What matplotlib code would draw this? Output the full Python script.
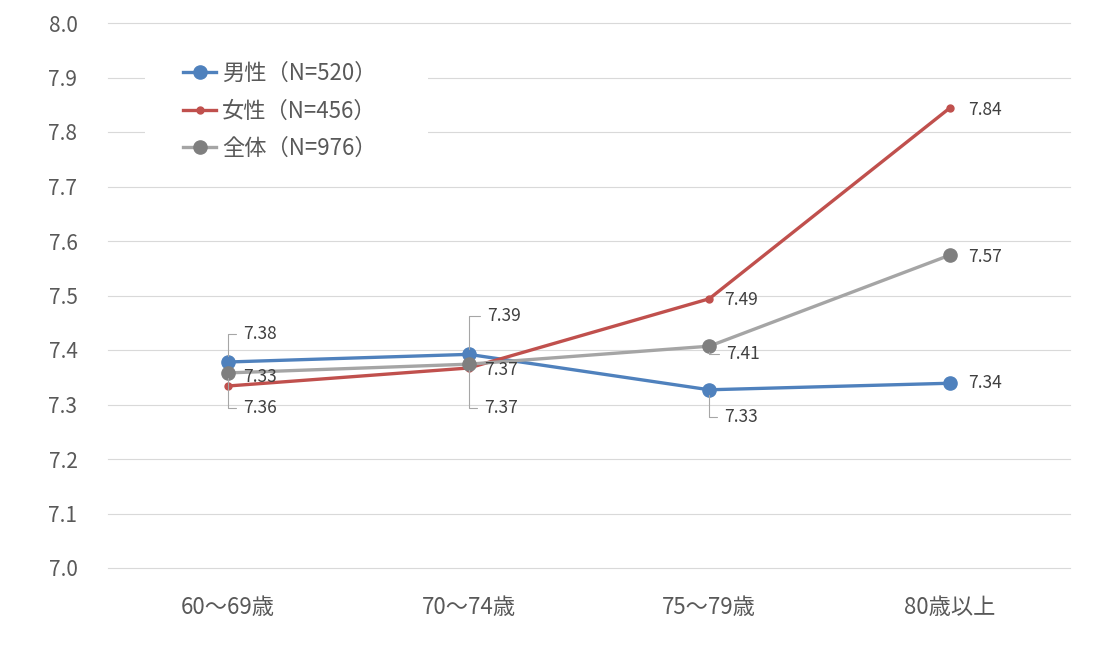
import matplotlib
matplotlib.use("Agg")
import matplotlib.pyplot as plt
from matplotlib.patches import Rectangle

plt.rcParams['font.family'] = ['Noto Sans CJK JP', 'DejaVu Sans']

categories = ["60～69歳", "70～74歳", "75～79歳", "80歳以上"]
male = [7.378, 7.392, 7.327, 7.339]
female = [7.334, 7.367, 7.494, 7.844]
total = [7.358, 7.374, 7.407, 7.574]
male_labels = ["7.38", "7.39", "7.33", "7.34"]
female_labels = ["7.33", "7.37", "7.49", "7.84"]
total_labels = ["7.36", "7.37", "7.41", "7.57"]
series_names = ["男性（N=520）", "女性（N=456）", "全体（N=976）"]
yticks = [7.0, 7.1, 7.2, 7.3, 7.4, 7.5, 7.6, 7.7, 7.8, 7.9, 8.0]

fig = plt.figure(figsize=(11.11, 6.72), dpi=100)
ax = fig.add_axes([108/1111, (672-568)/672, (1070-108)/1111, (568-23)/672])

x = list(range(len(categories)))
blue, red, gray_line, gray_mk = "#4F81BD", "#C0504D", "#A5A5A5", "#7F7F7F"
l1, = ax.plot(x, male, color=blue, lw=2.4, marker='o', ms=9.5, zorder=4, label=series_names[0])
l2, = ax.plot(x, female, color=red, lw=2.4, marker='o', ms=5, zorder=4, label=series_names[1])
l3, = ax.plot(x, total, color=gray_line, lw=2.4, marker='o', ms=9.5, mfc=gray_mk, mec=gray_mk,
              zorder=4, label=series_names[2])

ax.set_xlim(-0.5, 3.5)
ax.set_ylim(7.0, 8.0)
ax.set_yticks(yticks)
ax.set_yticklabels([f"{v:.1f}" for v in yticks])
ax.set_xticks(x)
ax.set_xticklabels(categories)
for s in ax.spines.values():
    s.set_visible(False)
ax.grid(axis='y', color='#D9D9D9', lw=0.8)
for gl in ax.get_ygridlines():
    gl.set_clip_on(False)
ax.set_axisbelow(True)
ax.tick_params(axis='y', length=0, pad=22, labelsize=15, labelcolor='#595959')
ax.tick_params(axis='x', length=0, pad=20, labelsize=16, labelcolor='#595959')

# data labels: offsets in pixels, leader flags
offsets = {
    'male': [(15, 28), (18, 38), (15, -27), (18, 0)],
    'female': [(15, 9), (15, -2), (15, -1), (18, -2)],
    'total': [(15, -35), (15, -44), (17, -8), (18, -2)],
}
leaders = {
    'male': [True, True, True, False],
    'female': [False, False, False, False],
    'total': [True, True, True, False],
}
data = {'male': (male, male_labels), 'female': (female, female_labels), 'total': (total, total_labels)}
for key, (vals, labs) in data.items():
    for i, (v, lab) in enumerate(zip(vals, labs)):
        off = offsets[key][i]
        kw = {}
        if leaders[key][i]:
            kw['arrowprops'] = dict(arrowstyle='-', color='#A6A6A6', lw=0.8,
                                    connectionstyle='angle,angleA=0,angleB=90,rad=0',
                                    relpos=(0, 0.5), shrinkA=3, shrinkB=4)
        ax.annotate(lab, xy=(i, v), xytext=off, textcoords='offset pixels',
                    ha='left', va='center', fontsize=12.5, color='#404040', zorder=6, **kw)

# legend background
ax.add_patch(Rectangle((145/1111, 1-168/672), (428-145)/1111, (168-52)/672,
                       transform=fig.transFigure, facecolor='white', edgecolor='none', zorder=2))
leg = fig.legend(handles=[l1, l2, l3], loc='upper left', bbox_to_anchor=(183/1111, 1-62/672),
                 frameon=False, fontsize=16, handlelength=1.5, handletextpad=0.25,
                 labelspacing=0.65, borderpad=0, borderaxespad=0)
for t in leg.get_texts():
    t.set_color('#595959')

fig.savefig("out.png", dpi=100)
